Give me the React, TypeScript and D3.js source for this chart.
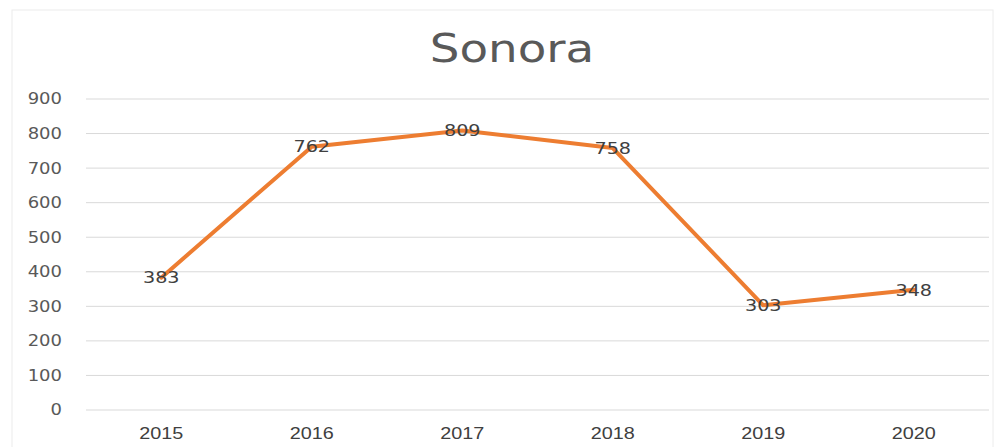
import React from "react";
import * as d3 from "d3";

const title = "Sonora";
const categories = ["2015", "2016", "2017", "2018", "2019", "2020"];
const values = [383, 762, 809, 758, 303, 348];
const yTicks = [0, 100, 200, 300, 400, 500, 600, 700, 800, 900];

const SX = 1.2;

export default function App() {
  const W = 996, H = 447;
  const left = 86, right = 989, top = 99, bottom = 410;
  const x = d3.scaleBand<string>().domain(categories).range([left, right]);
  const y = d3.scaleLinear().domain([0, 900]).range([bottom, top]);
  const cx = (i: number) => (x(categories[i]) as number) + x.bandwidth() / 2;
  const line = d3
    .line<number>()
    .x((_, i) => cx(i))
    .y((d) => y(d));
  const font = "'DejaVu Sans', Verdana, sans-serif";
  const tr = (px: number, py: number) => `translate(${px},${py}) scale(${SX},1)`;
  return (
    <svg
      width={W}
      height={H}
      style={{ position: "absolute", left: 0, top: 0, background: "#fff" }}
    >
      <rect x={12} y={10} width={981} height={450} fill="#fff" stroke="#ececec" strokeWidth={1} />
      <text transform={tr(512, 62)} textAnchor="middle" fontSize={39} fill="#595959" fontFamily={font}>
        {title}
      </text>
      {yTicks.map((t) => (
        <g key={t}>
          <line x1={left} x2={right} y1={y(t)} y2={y(t)} stroke="#d9d9d9" strokeWidth={1} />
          <text
            transform={tr(62, y(t))}
            dy="0.36em"
            textAnchor="end"
            fontSize={15}
            fill="#595959"
            fontFamily={font}
          >
            {t}
          </text>
        </g>
      ))}
      {categories.map((c, i) => (
        <text
          key={c}
          transform={tr(cx(i), 433)}
          dy="0.36em"
          textAnchor="middle"
          fontSize={16.5}
          fill="#404040"
          fontFamily="'Liberation Sans', Arial, sans-serif"
        >
          {c}
        </text>
      ))}
      <path
        d={line(values) || ""}
        fill="none"
        stroke="#ED7D31"
        strokeWidth={4}
        strokeLinejoin="round"
        strokeLinecap="round"
      />
      {values.map((v, i) => (
        <text
          key={i}
          transform={tr(cx(i), y(v))}
          dy="0.36em"
          textAnchor="middle"
          fontSize={16}
          fill="#404040"
          fontFamily={font}
        >
          {v}
        </text>
      ))}
    </svg>
  );
}
